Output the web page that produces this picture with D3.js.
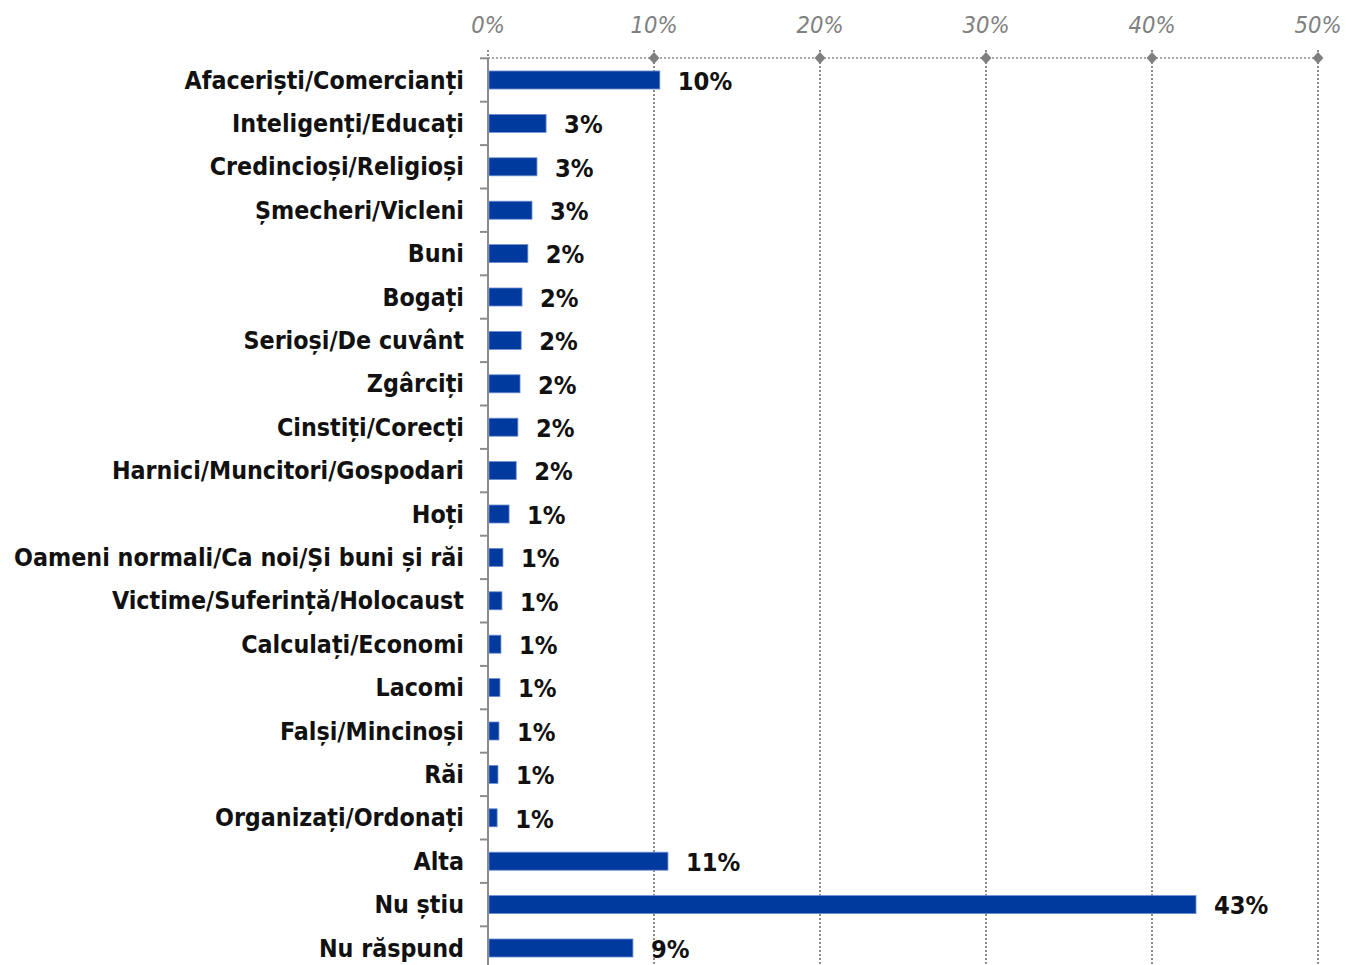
<!DOCTYPE html>
<html><head><meta charset="utf-8">
<script src="https://cdn.jsdelivr.net/npm/d3@7"></script>
<style>body{margin:0;background:#fff}svg{display:block}</style>
</head><body>
<svg id="c" width="1346" height="965"></svg>
<script>
const categories = ["Afaceriști/Comercianți","Inteligenți/Educați","Credincioși/Religioși","Șmecheri/Vicleni","Buni","Bogați","Serioși/De cuvânt","Zgârciți","Cinstiți/Corecți","Harnici/Muncitori/Gospodari","Hoți","Oameni normali/Ca noi/Și buni și răi","Victime/Suferință/Holocaust","Calculați/Economi","Lacomi","Falși/Mincinoși","Răi","Organizați/Ordonați","Alta","Nu știu","Nu răspund"];
const values = [10.35,3.5,2.95,2.65,2.4,2.05,2.0,1.93,1.8,1.7,1.27,0.9,0.84,0.78,0.72,0.66,0.6,0.55,10.84,42.65,8.73];
const valueLabels = ["10%","3%","3%","3%","2%","2%","2%","2%","2%","2%","1%","1%","1%","1%","1%","1%","1%","1%","11%","43%","9%"];
const xTicks = [0,10,20,30,40,50];

const svg = d3.select("#c");
const x = d3.scaleLinear().domain([0,50]).range([488,1318]);
const y = d3.scaleBand().domain(categories).range([58.3,969.7]).paddingInner(0.585).paddingOuter(0.2925);
const grey = "#8c8c8c";
const font = "'DejaVu Sans Condensed', 'DejaVu Sans', sans-serif";

// gridlines
svg.append("g").selectAll("line").data(xTicks.filter(d=>d>0)).join("line")
  .attr("x1",d=>x(d)).attr("x2",d=>x(d)).attr("y1",50).attr("y2",965)
  .attr("stroke",grey).attr("stroke-width",2).attr("stroke-dasharray","2,2");
svg.append("line").attr("x1",x(0)).attr("x2",x(0)).attr("y1",50).attr("y2",58)
  .attr("stroke",grey).attr("stroke-width",2).attr("stroke-dasharray","2,2");
svg.append("line").attr("x1",x(0)).attr("x2",x(50)).attr("y1",58).attr("y2",58)
  .attr("stroke",grey).attr("stroke-width",1.5).attr("stroke-dasharray","2,2");
svg.append("g").selectAll("path").data(xTicks.filter(d=>d>0)).join("path")
  .attr("d",d3.symbol(d3.symbolDiamond,40))
  .attr("transform",d=>`translate(${x(d)},58) scale(1.6,1)`).attr("fill","#7f7f7f");
// tick labels
svg.append("g").selectAll("text").data(xTicks).join("text")
  .attr("x",d=>x(d)).attr("y",33).attr("text-anchor","middle")
  .attr("font-family","'DejaVu Sans Condensed', sans-serif").attr("font-style","italic").attr("font-size",23.5)
  .attr("fill","#808080").text(d=>d+"%");

// left axis
const yAxis = d3.axisLeft(y).tickSize(0).tickFormat("");
const ga = svg.append("g").attr("transform",`translate(${x(0)},0)`).call(yAxis);
ga.select(".domain").remove();
svg.append("line").attr("x1",x(0)).attr("x2",x(0)).attr("y1",58).attr("y2",965).attr("stroke",grey).attr("stroke-width",2);
const step = y.step();
svg.append("g").selectAll("line").data(d3.range(categories.length)).join("line")
  .attr("x1",x(0)-8).attr("x2",x(0)).attr("y1",i=>58.3+i*step).attr("y2",i=>58.3+i*step)
  .attr("stroke",grey).attr("stroke-width",2);

// bars
svg.append("g").selectAll("rect").data(categories).join("rect")
  .attr("x",x(0)+1).attr("y",d=>y(d)).attr("height",y.bandwidth())
  .attr("width",(d,i)=>x(values[i])-x(0)-1)
  .attr("fill","#003a9f").attr("stroke","#6f8fcf").attr("stroke-width",0.8);

// category labels
const labs = svg.append("g").selectAll("text").data(categories).join("text")
  .attr("x",464).attr("y",d=>y(d)+y.bandwidth()/2).attr("dy","0.35em")
  .attr("text-anchor","end").attr("font-family",font).attr("font-weight","bold")
  .attr("font-size",22).attr("fill","#111").text(d=>d);
const longest = d3.max(labs.nodes(), n=>n.getComputedTextLength());
const fs = 22*450/longest;
labs.attr("font-size",fs);

// value labels
svg.append("g").selectAll("text").data(categories).join("text")
  .attr("x",(d,i)=>x(values[i])+18).attr("y",d=>y(d)+y.bandwidth()/2+1).attr("dy","0.35em")
  .attr("font-family",font).attr("font-weight","bold")
  .attr("font-size",fs*1.02).attr("fill","#111").text((d,i)=>valueLabels[i]);
</script>
</body></html>
